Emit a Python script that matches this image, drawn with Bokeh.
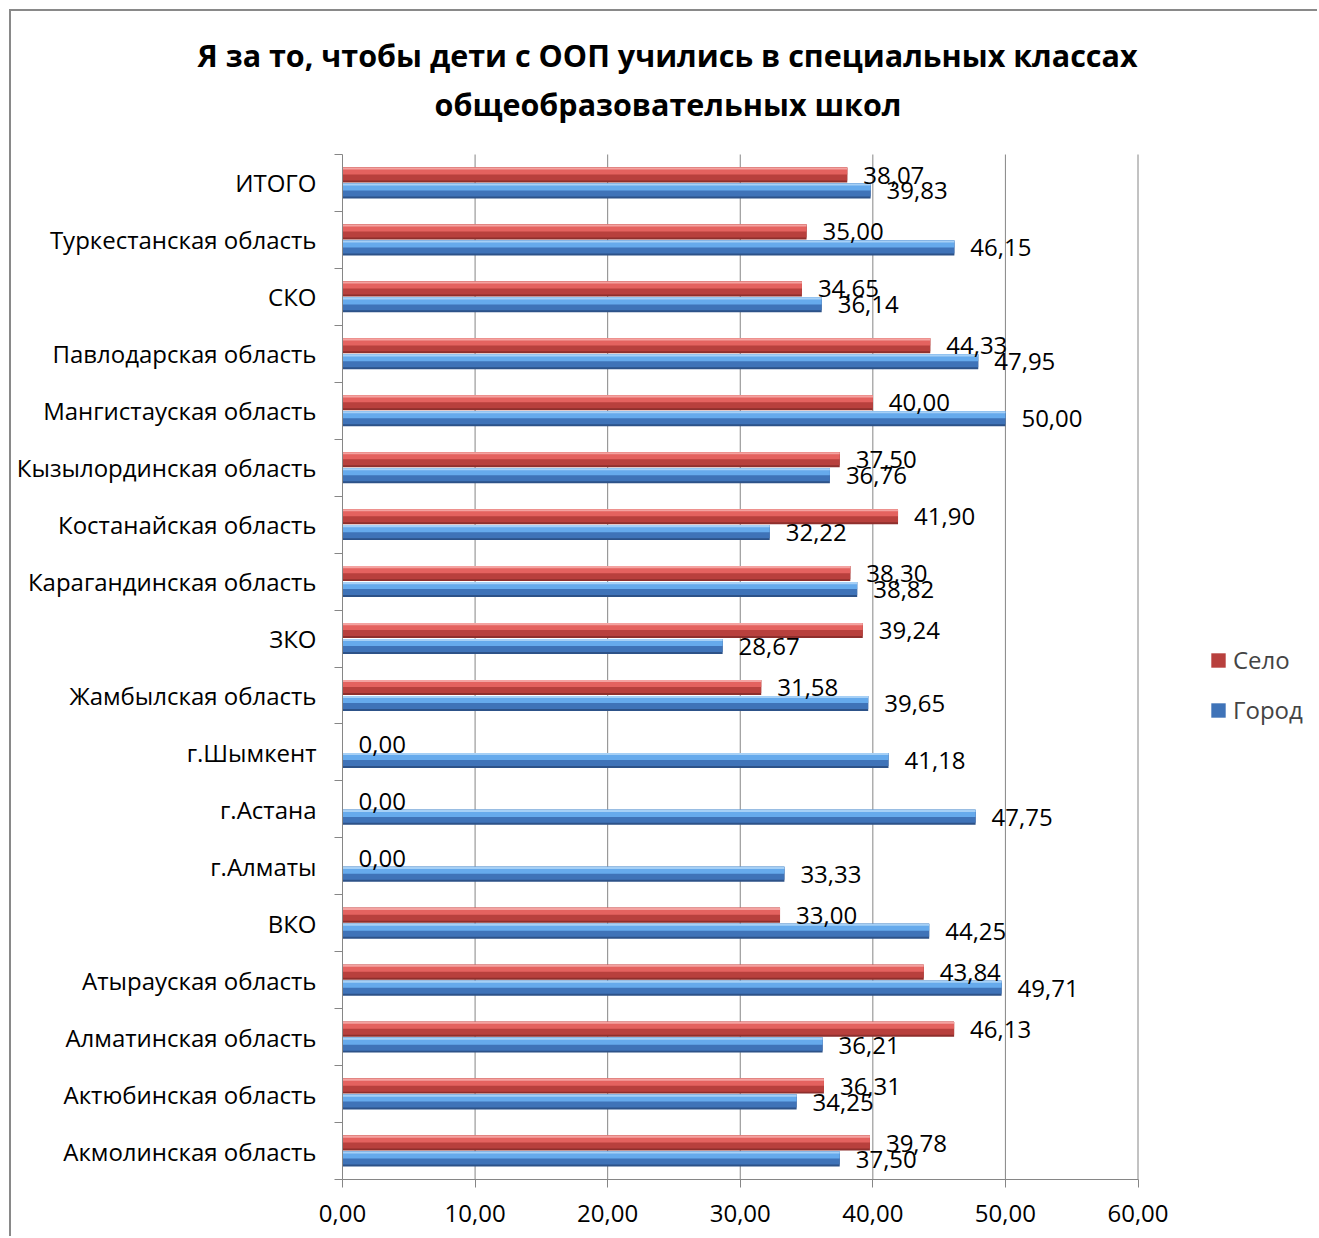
from bokeh.plotting import figure
from bokeh.models import (ColumnDataSource, Range1d, FixedTicker, Legend, LegendItem,
                          Label, Title)
from bokeh.core.properties import value
from bokeh.embed import file_html
from bokeh.resources import INLINE

# ---------------- data (bottom -> top) ----------------
categories = [
    "Акмолинская область", "Актюбинская область", "Алматинская область",
    "Атырауская область", "ВКО", "г.Алматы", "г.Астана", "г.Шымкент",
    "Жамбылская область", "ЗКО", "Карагандинская область", "Костанайская область",
    "Кызылординская область", "Мангистауская область", "Павлодарская область",
    "СКО", "Туркестанская область", "ИТОГО",
]
selo = [39.78, 36.31, 46.13, 43.84, 33.00, 0.00, 0.00, 0.00, 31.58, 39.24,
        38.30, 41.90, 37.50, 40.00, 44.33, 34.65, 35.00, 38.07]
gorod = [37.50, 34.25, 36.21, 49.71, 44.25, 33.33, 47.75, 41.18, 39.65, 28.67,
         38.82, 32.22, 36.76, 50.00, 47.95, 36.14, 46.15, 39.83]
x_ticks = [0, 10, 20, 30, 40, 50, 60]
x_tick_labels = ["0,00", "10,00", "20,00", "30,00", "40,00", "50,00", "60,00"]
series_names = ["Село", "Город"]
title_lines = ["Я за то, чтобы дети с ООП учились в специальных классах",
               "общеобразовательных школ"]

# ---------------- layout (page pixels) ----------------
PAGE_W, PAGE_H = 1319, 1238
OFFS = 11                       # 9px gap + 2px chart border
PX0, PX60 = 342.0, 1137.5       # page x of value 0 and 60
PY_BOT, PY_TOP = 1179.0, 154.0  # page y of lower / upper band edge
FRAME_TOP = 80.0                # page y of plot frame top
W, H = PAGE_W - OFFS, PAGE_H - OFFS
FONT = "Open Sans"
FS = "24px"
TFS = "30.5px"
n = len(categories)

XMAX = x_ticks[-1]
ppx = (PX60 - PX0) / XMAX
ppy = (PY_BOT - PY_TOP) / n
x_end = (PAGE_W - PX0) / ppx

def dx(page_x):
    return (page_x - PX0) / ppx

def dy(page_y):
    return -0.5 + (PY_BOT - page_y) / ppy

p = figure(width=W, height=H, output_backend="svg", toolbar_location=None,
           x_range=Range1d(0, x_end), y_range=Range1d(-0.5, dy(FRAME_TOP)),
           min_border_left=int(PX0 - OFFS), min_border_right=0,
           min_border_top=int(FRAME_TOP - OFFS), min_border_bottom=int(PAGE_H - PY_BOT))
p.outline_line_color = None
p.background_fill_color = "white"
p.border_fill_color = "white"
p.styles = {"margin-left": "9px", "margin-top": "9px",
            "border-top": "2px solid #898989", "border-left": "2px solid #898989"}

GRID = "#868686"
p.xgrid.grid_line_color = None
p.ygrid.grid_line_color = None
p.segment(x0=x_ticks[1:], x1=x_ticks[1:], y0=-0.5, y1=n - 0.5,
          line_color=GRID, line_width=1)

xa = p.xaxis[0]
xa.ticker = FixedTicker(ticks=x_ticks, minor_ticks=[])
xa.bounds = (x_ticks[0], x_ticks[-1])
xa.major_label_overrides = {t: l for t, l in zip(x_ticks, x_tick_labels)}
xa.axis_line_color = GRID
xa.major_tick_line_color = GRID
xa.major_tick_out = 8
xa.major_tick_in = 0
xa.major_label_standoff = 17
xa.major_label_text_font = FONT
xa.major_label_text_font_size = FS
xa.major_label_text_color = "black"

ya = p.yaxis[0]
ya.ticker = FixedTicker(ticks=list(range(n)), minor_ticks=[i - 0.5 for i in range(n + 1)])
ya.bounds = (-0.5, n - 0.5)
ya.major_label_overrides = {i: c for i, c in enumerate(categories)}
ya.axis_line_color = GRID
ya.major_tick_line_color = None
ya.major_tick_out = 0
ya.major_tick_in = 0
ya.minor_tick_line_color = GRID
ya.minor_tick_out = 8
ya.minor_tick_in = 0
ya.major_label_standoff = 18
ya.major_label_text_font = FONT
ya.major_label_text_font_size = FS
ya.major_label_text_color = "black"

# ---------------- bars ----------------
BAR_H = 0.263
OFF = 0.14

def fmt(v):
    return f"{v:.2f}".replace(".", ",")

styles = {
    "Село": ["#8e2f2d", "#b8403d", "#e4625f", "#f4a3a1"],
    "Город": ["#2d5288", "#3f73b8", "#66aaec", "#a6d0f6"],
}
segs = [(0.0, 1.0), (0.0, 0.87), (0.0, 0.47), (0.0, 0.14)]

main_r = {}
label_sources = []
for name, vals, off in [("Село", selo, OFF), ("Город", gorod, -OFF)]:
    ys = [i + off for i in range(n)]
    label_sources.append(ColumnDataSource(dict(y=ys, v=vals, lbl=[fmt(v) for v in vals])))
    p.hbar(y=[y - 0.045 for y in ys], right=vals, left=0, height=BAR_H * 0.6,
           fill_color="#bfbfbf", fill_alpha=0.35, line_color=None)
    rs = []
    for col, (t, b) in zip(styles[name], segs):
        top = BAR_H / 2 - t * BAR_H
        bot = BAR_H / 2 - b * BAR_H
        rs.append(p.hbar(y=[y + (top + bot) / 2 for y in ys], right=vals, left=0,
                         height=top - bot, fill_color=col, line_color=None))
    main_r[name] = rs[1]

# value labels on top of all bars
for src in label_sources:
    p.text(x="v", y="y", text="lbl", source=src, x_offset=16,
           text_align="left", text_baseline="middle",
           text_font=value(FONT), text_font_size=FS, text_color="black")

legend = Legend(items=[LegendItem(label=s, renderers=[main_r[s]]) for s in series_names],
                location=(int(1209 - PX0), int(PY_BOT - 726)), orientation="vertical",
                glyph_width=18, glyph_height=18, label_height=20, spacing=17,
                padding=0, margin=0, label_standoff=6,
                label_text_font=FONT, label_text_font_size=FS,
                border_line_color=None, background_fill_alpha=0)
p.add_layout(legend, "center")

# title: first line above the frame, second line inside the frame's top strip
p.add_layout(Title(text=title_lines[0], align="left", offset=197 - PX0,
                   text_font=FONT, text_font_style="bold", text_font_size=TFS,
                   text_color="black", standoff=9), "above")
p.add_layout(Label(x=dx(667.5), y=dy(103), text=title_lines[1],
                   text_align="center", text_baseline="middle",
                   text_font=FONT, text_font_style="bold", text_font_size=TFS,
                   text_color="black"))

open("out.html", "w").write(file_html(p, INLINE))
